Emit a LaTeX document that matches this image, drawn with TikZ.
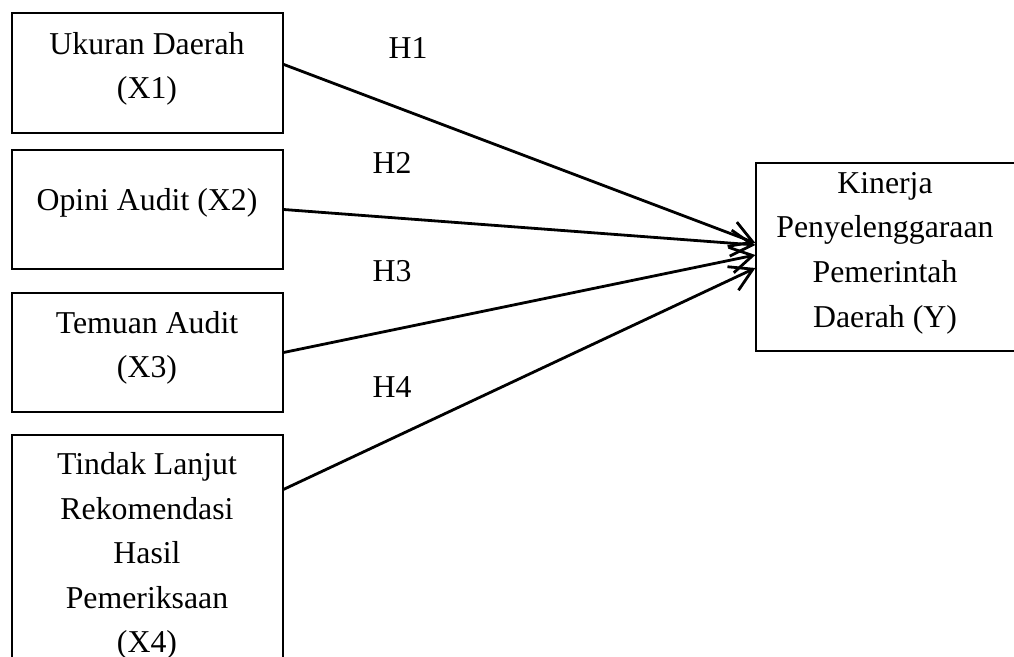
\documentclass[tikz,border=0pt]{standalone}
\usepackage{fontspec}
\setmainfont{Liberation Serif}
\usetikzlibrary{arrows.meta,calc,positioning}

\begin{document}
\begin{tikzpicture}[x=0.5pt, y=-0.5pt,
        varbox/.style={draw, line width=0.6pt, minimum width=135.5pt, inner sep=0pt},
        vartext/.style={align=center, inner sep=0pt, font=\fontsize{15.9}{22.3}\selectfont},
        hyp/.style={inner sep=0pt, font=\fontsize{15.9}{22.3}\selectfont},
        link/.style={line width=1.4pt, -{Straight Barb[length=11pt, width=13pt, line width=1.4pt]}},]
        \useasboundingbox (0,0) rectangle (1014,657);

        \node (x1) [varbox, minimum height=60pt] at (147.5,73) {};
        \node (x2) [varbox, minimum height=59.5pt] at (147.5,209.5) {};
        \node (x3) [varbox, minimum height=59.5pt] at (147.5,352.5) {};
        \node (x4) [varbox, minimum height=132.5pt] at (147.5,567.5) {};
        \node (y) [varbox, minimum width=137pt, minimum height=94pt] at (893,257) {};

        \node (x1txt) [vartext] at (147,69) {Ukuran Daerah\\(X1)};
        \node (x2txt) [vartext] at (147,203) {Opini Audit (X2)};
        \node (x3txt) [vartext] at (147,348) {Temuan Audit\\(X3)};
        \node (x4txt) [vartext] at (147,556) {Tindak Lanjut\\Rekomendasi\\Hasil\\Pemeriksaan\\(X4)};
        \node (ytxt) [vartext] at (885,253) {Kinerja\\Penyelenggaraan\\Pemerintah\\Daerah (Y)};

        \node (h1) [hyp] at (408,48) {H1};
        \node (h2) [hyp] at (392,163) {H2};
        \node (h3) [hyp] at (392,271) {H3};
        \node (h4) [hyp] at (392,387) {H4};

        \draw [link] ($(x1.north east)+(0,52)$) -- ($(y.west)+(0,-14)$);
        \draw [link] (x2.east) -- ($(y.west)+(0,-12)$);
        \draw [link] (x3.east) -- ($(y.west)+(0,-2)$);
        \draw [link] ($(x4.north east)+(0,55)$) -- ($(y.west)+(0,11)$);
    \end{tikzpicture}
\end{document}
